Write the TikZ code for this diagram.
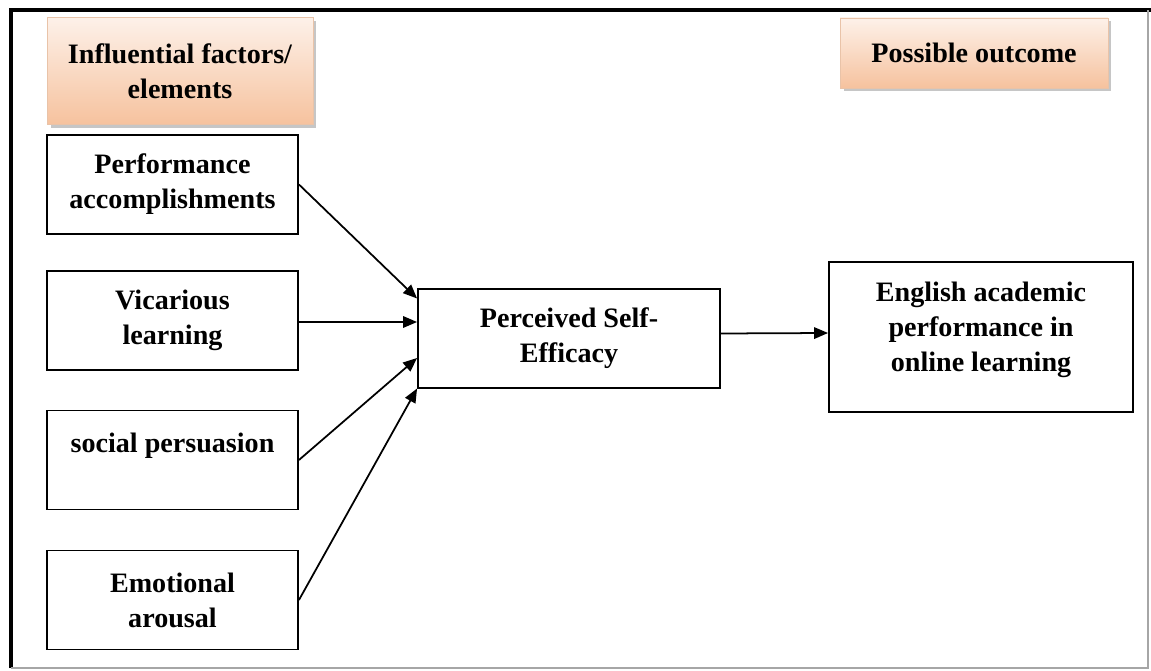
\documentclass[tikz,border=0pt]{standalone}
\usepackage{fontspec}
\setmainfont{Liberation Serif}
\usepackage{tikz}
\usetikzlibrary{arrows.meta, positioning, shadows}
\definecolor{PeachTop}{HTML}{FDF1E9}
\definecolor{PeachBottom}{HTML}{F6C29E}
\definecolor{PeachEdge}{HTML}{E9C3A8}

\begin{document}
\begin{tikzpicture}[
  x=0.02cm, y=-0.02cm,
  >={Triangle[length=2.8mm, width=2.3mm]},
  factor/.style={draw=black, line width=1.1pt, fill=white,
    minimum width=5.02cm, minimum height=1.98cm,
    align=center, font=\fontsize{16}{20}\selectfont\bfseries},
  header/.style={draw=PeachEdge, thin, top color=PeachTop, bottom color=PeachBottom,
    drop shadow={shadow xshift=0.7mm, shadow yshift=-0.7mm, opacity=0.45},
    align=center, font=\fontsize{16}{20}\selectfont\bfseries},
  link/.style={->, line width=1pt}
]
\useasboundingbox (0,0) rectangle (1151,671);

% outer frame
\draw[line width=2.2pt] (11,668) -- (11,10) -- (1151,10);
\draw[gray!70, line width=0.8pt] (11,668) -- (1148,668) -- (1148,10);

% headers
\node[header, minimum width=5.32cm, minimum height=2.14cm] (head1) at (180,71)
  {Influential factors/\\elements};
\node[header, minimum width=5.36cm, minimum height=1.4cm] (head2) at (974,53)
  {Possible outcome};

% influential factors
\node[factor] (perf) at (172.5,184.5) {Performance\\accomplishments};
\node[factor] (vic) at (172.5,320.5) {Vicarious\\learning};
\node[factor] (soc) at (172.5,460) {social persuasion\\\mbox{}};
\node[factor] (emo) at (172.5,600) {Emotional\\arousal};

% self-efficacy and outcome
\node[factor, minimum width=6.04cm] (pse) at (569,338.5) {Perceived Self-\\Efficacy};
\node[factor, minimum width=6.08cm, minimum height=3cm] (eng) at (981,337)
  {English academic\\performance in\\online learning\\[-8pt]\mbox{}};

% arrows
\draw[link] (perf.east) -- ([yshift=0.8cm]pse.west);
\draw[link] ([yshift=-0.03cm]vic.east) -- ([yshift=0.33cm]pse.west);
\draw[link] (soc.east) -- ([yshift=-0.39cm]pse.west);
\draw[link] (emo.east) -- ([yshift=-1.0cm]pse.west);
\draw[link] ([yshift=0.1cm]pse.east) -- ([yshift=0.08cm]eng.west);

\end{tikzpicture}
\end{document}
